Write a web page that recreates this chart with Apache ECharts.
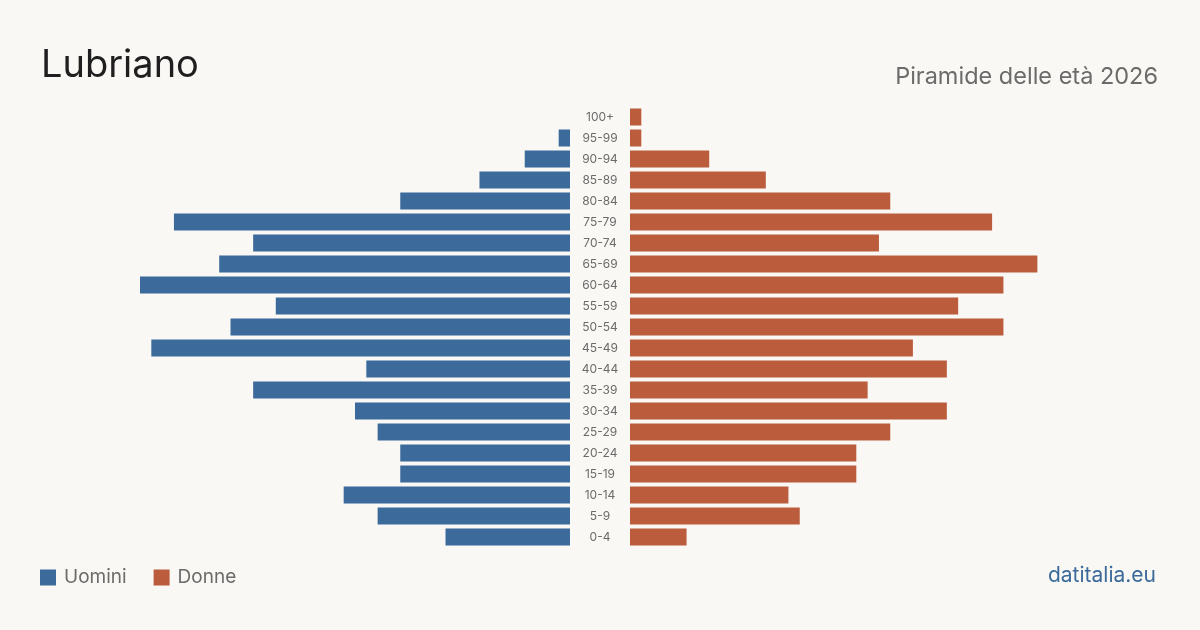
<!DOCTYPE html>
<html>
<head>
<meta charset="utf-8">
<script src="https://cdn.jsdelivr.net/npm/echarts@6/dist/echarts.min.js"></script>
<style>
	html, body { margin: 0; padding: 0; background: #f9f8f4; }
	#chart { width: 1200px; height: 630px; }
</style>
</head>
<body>
<div id="chart"></div>
<script>
var classi = ['100+','95-99','90-94','85-89','80-84','75-79','70-74','65-69','60-64','55-59','50-54',
	'45-49','40-44','35-39','30-34','25-29','20-24','15-19','10-14','5-9','0-4'];
var uomini = [0, 1, 4, 8, 15, 35, 28, 31, 38, 26, 30, 37, 18, 28, 19, 17, 15, 15, 20, 17, 11];
var donne = [1, 1, 7, 12, 23, 32, 22, 36, 33, 29, 33, 25, 28, 21, 28, 23, 20, 20, 14, 15, 5];
var maxVal = 38;

window.onload = function(){
	var myChart = echarts.init(document.getElementById('chart'));
	var font = 'Inter, "Noto Sans", sans-serif';

	var option = {
		backgroundColor: '#f9f8f4',
		animation: false,
		textStyle: { fontFamily: font },
		title: [
			{
				text: 'Lubriano',
				left: 36,
				top: 42,
				textStyle: { color: '#1f1f1f', fontSize: 38, fontWeight: 'normal', fontFamily: font }
			},
			{
				text: 'Piramide delle età 2026',
				right: 37,
				top: 60,
				textStyle: { color: '#6b6b6b', fontSize: 23.5, fontWeight: 'normal', fontFamily: font }
			},
			{
				text: 'datitalia.eu',
				right: 39,
				top: 560,
				textStyle: { color: '#3b6a9b', fontSize: 21, fontWeight: 'normal', fontFamily: font }
			}
		],
		legend: {
			left: 35,
			top: 563,
			icon: 'rect',
			itemWidth: 16,
			itemHeight: 16,
			itemGap: 27,
			textStyle: { color: '#6b6b6b', fontSize: 19, fontFamily: font, padding: [0, 0, 0, 3] },
			data: ['Uomini', 'Donne']
		},
		grid: [
			{ left: 140, width: 430, top: 106.5, height: 441 },
			{ left: 630, width: 430, top: 106.5, height: 441 }
		],
		xAxis: [
			{ gridIndex: 0, type: 'value', min: 0, max: maxVal, inverse: true, show: false },
			{ gridIndex: 1, type: 'value', min: 0, max: maxVal, show: false }
		],
		yAxis: [
			{
				gridIndex: 0, type: 'category', inverse: true, data: classi,
				axisLine: { show: false }, axisTick: { show: false }, axisLabel: { show: false }
			},
			{
				gridIndex: 1, type: 'category', inverse: true, data: classi,
				axisLine: { show: false }, axisTick: { show: false },
				axisLabel: { show: true, align: 'center', margin: 30, color: '#6b6b6b', fontSize: 12, fontFamily: font }
			}
		],
		series: [
			{
				name: 'Uomini',
				type: 'bar',
				xAxisIndex: 0, yAxisIndex: 0,
				barCategoryGap: '19%',
				itemStyle: { color: '#3b6a9b' },
				data: uomini
			},
			{
				name: 'Donne',
				type: 'bar',
				xAxisIndex: 1, yAxisIndex: 1,
				barCategoryGap: '19%',
				itemStyle: { color: '#bb5c3c' },
				data: donne
			}
		]
	};

	myChart.setOption(option);
}
</script>
</body>
</html>
